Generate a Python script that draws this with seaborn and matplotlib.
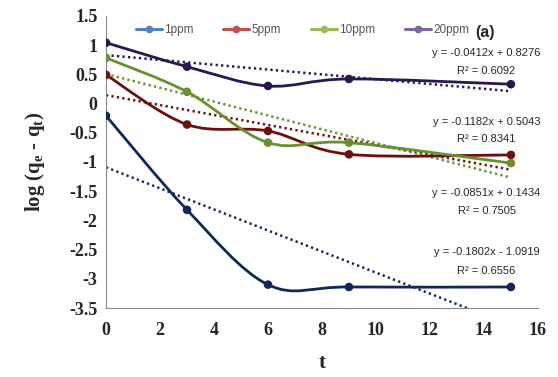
import numpy as np
import pandas as pd
import matplotlib
matplotlib.use("Agg")
import matplotlib.pyplot as plt
from matplotlib.path import Path
from matplotlib.patches import PathPatch
from matplotlib.lines import Line2D
import seaborn as sns

# data
t = [0, 3, 6, 9, 15]
series = ["1ppm", "5ppm", "10ppm", "20ppm"]
y_1ppm = [-0.21, -1.82, -3.10, -3.14, -3.14]
y_5ppm = [0.49, -0.36, -0.47, -0.87, -0.88]
y_10ppm = [0.78, 0.20, -0.67, -0.67, -1.02]
y_20ppm = [1.04, 0.63, 0.30, 0.42, 0.33]

# trend lines (slope, intercept, R^2) as printed
slopes = [-0.1802, -0.0851, -0.1182, -0.0412]
intercepts = [-1.0919, 0.1434, 0.5043, 0.8276]
r2 = [0.6556, 0.7505, 0.8341, 0.6092]

line_colors = ["#10265c", "#6b0f0f", "#6a8f2e", "#2a1650"]
legend_colors = ["#4f81bd", "#c0504d", "#9bbb59", "#8064a2"]

df = pd.DataFrame({
    "t": t * 4,
    "value": y_1ppm + y_5ppm + y_10ppm + y_20ppm,
    "series": [s for s in series for _ in t],
})

sns.set_style("white")
plt.rcParams["font.family"] = ["Liberation Serif", "DejaVu Serif"]
plt.rcParams["mathtext.fontset"] = "custom"
plt.rcParams["mathtext.rm"] = "Liberation Serif:bold"
plt.rcParams["mathtext.bf"] = "Liberation Serif:bold"
plt.rcParams["mathtext.it"] = "Liberation Serif:bold"

fig = plt.figure(figsize=(5.58, 3.77), dpi=100)
ax = fig.add_axes([0.19, 0.183, 0.774, 0.775])


def smooth_path(xs, ys):
    # excel style smoothed line: cubic bezier through the points
    pts = np.column_stack([xs, ys]).astype(float)
    verts = [pts[0]]
    codes = [Path.MOVETO]
    n = len(pts)
    for i in range(n - 1):
        p0 = pts[max(i - 1, 0)]
        p1 = pts[i]
        p2 = pts[i + 1]
        p3 = pts[min(i + 2, n - 1)]
        c1 = p1 + (p2 - p0) / 6.0
        c2 = p2 - (p3 - p1) / 6.0
        verts += [c1, c2, p2]
        codes += [Path.CURVE4] * 3
    return Path(verts, codes)


for i, s in enumerate(series):
    sub = df[df["series"] == s]
    ax.add_patch(PathPatch(smooth_path(sub["t"], sub["value"]), fill=False,
                           edgecolor=line_colors[i], lw=2.0, zorder=3))
    xx = np.array([0, 15])
    ax.plot(xx, intercepts[i] + slopes[i] * xx, color=line_colors[i],
            lw=1.8, linestyle=(0, (0.9, 1.3)), zorder=2)

sns.scatterplot(data=df, x="t", y="value", hue="series", palette=line_colors,
                s=38, edgecolor="none", legend=False, ax=ax, zorder=4)

ax.set_xlim(0, 16)
ax.set_ylim(-3.5, 1.5)
ax.set_xticks(range(0, 17, 2))
ax.set_yticks(np.arange(-3.5, 1.51, 0.5))
ax.set_yticklabels(["-3.5", "-3", "-2.5", "-2", "-1.5", "-1", "-0.5", "0",
                    "0.5", "1", "1.5"])
for lab in ax.get_xticklabels() + ax.get_yticklabels():
    lab.set_fontweight("bold")
    lab.set_fontsize(13)
ax.tick_params(axis="y", direction="out", length=4, color="#888888", width=0.8, pad=2)
ax.tick_params(axis="x", direction="in", length=4, color="#888888", width=0.8, pad=10)
for side in ["top", "right"]:
    ax.spines[side].set_visible(False)
for side in ["left", "bottom"]:
    ax.spines[side].set_color("#888888")
    ax.spines[side].set_linewidth(0.8)

ax.set_xlabel("t", fontsize=15, fontweight="bold", labelpad=10)
ax.set_ylabel(r"log (q$_\mathrm{e}$ - q$_\mathrm{t}$)", fontsize=15,
              fontweight="bold", labelpad=16)

# equations of the trend lines
eq_font = ["Liberation Sans Narrow", "Liberation Sans", "DejaVu Sans"]
eq_pos = [(-2.54, -2.87), (-1.53, -1.84), (-0.315, -0.606), (0.866, 0.558)]
for i in range(4):
    sign = "-" if intercepts[i] < 0 else "+"
    ax.text(14.1, eq_pos[i][0],
            f"y = {slopes[i]:.4f}x {sign} {abs(intercepts[i]):.4f}",
            ha="center", va="center", fontsize=8, family=eq_font,
            clip_on=False)
    ax.text(14.1, eq_pos[i][1], f"R² = {r2[i]:.4f}", ha="center",
            va="center", fontsize=8, family=eq_font, clip_on=False)

ax.text(14.05, 1.22, "(a)", ha="center", va="center", fontsize=11.5,
        fontweight="bold", family=eq_font)

handles = [Line2D([], [], color=c, lw=2.2, marker="o", markersize=4.5)
           for c in legend_colors]
leg = ax.legend(handles, series, ncol=4, frameon=False, loc="center",
                bbox_to_anchor=(0.455, 0.952), handlelength=2.2,
                handletextpad=0.2, columnspacing=2.5,
                prop={"family": eq_font, "size": 8.5})
for txt in leg.get_texts():
    txt.set_color("#555555")

fig.savefig("out.png", dpi=100)
